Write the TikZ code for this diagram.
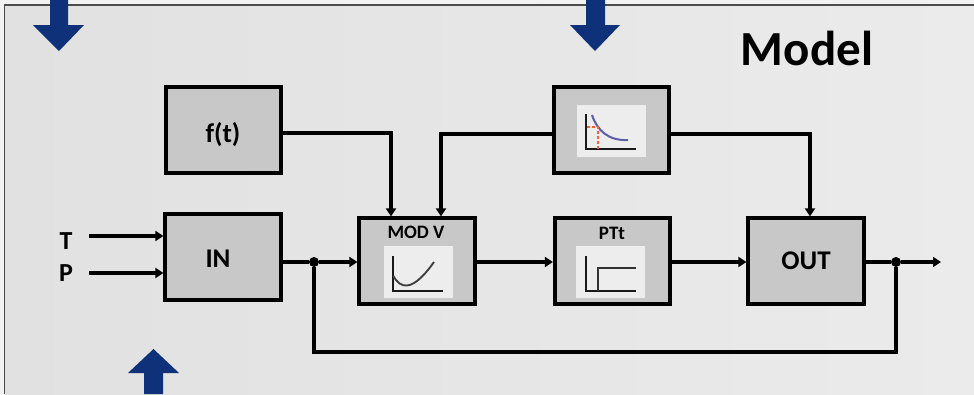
\documentclass[tikz,border=0pt]{standalone}
\usepackage{fontspec}
\setmainfont{Carlito}
\usetikzlibrary{arrows.meta,calc}
\definecolor{panel}{HTML}{E1E1E1}
\definecolor{panelb}{HTML}{EBEBEB}
\definecolor{boxfill}{HTML}{C8C8C8}
\definecolor{thumb}{HTML}{EDEDED}
\definecolor{navy}{HTML}{0F3179}
\definecolor{curve}{HTML}{5A5FA8}
\tikzset{
  blockbox/.style={draw=black,line width=3.8pt,fill=boxfill,minimum width=115.5pt,minimum height=85.5pt,inner sep=0pt,font=\bfseries\fontsize{27}{27}\selectfont},
  thumbbox/.style={fill=thumb,draw=none,minimum width=69pt,minimum height=52pt,inner sep=0pt},
  wire/.style={line width=3.3pt,draw=black},
  flow/.style={wire,-{Triangle[length=8pt,width=10pt]}},
  dotj/.style={circle,fill=black,minimum size=10pt,inner sep=0pt},
  plotline/.style={line width=2.2pt,draw=black!90},
  bigarrow/.style={fill=navy,draw=none},
  lab/.style={font=\bfseries\fontsize{26}{26}\selectfont,inner sep=0pt},
  sublab/.style={font=\bfseries\fontsize{19}{19}\selectfont,inner sep=0pt}
}
\begin{document}
\begin{tikzpicture}[x=1pt,y=-1pt]
\useasboundingbox (0,0) rectangle (974,394);
\fill[white!95!black] (0,0) rectangle (974,394);
\shade[left color=panel,right color=panelb] (5,5) rectangle (974,394);
\draw[line width=1.8pt,draw=black!70] (4.5,394) -- (4.5,5) -- (974,5);
% blue arrows
\path[bigarrow] (50,0) -- (68,0) -- (68,25) -- (84,25) -- (59,51) -- (33,25) -- (50,25) -- cycle;
\path[bigarrow] (586,0) -- (605,0) -- (605,25) -- (620,25) -- (595,51) -- (570,25) -- (586,25) -- cycle;
\path[bigarrow] (144,394) -- (163,394) -- (163,373) -- (179,373) -- (153.5,349) -- (128,373) -- (144,373) -- cycle;
\node[font=\bfseries\fontsize{49}{49}\selectfont,inner sep=0pt] (title) at (807,48) {Model};
% blocks
\node[blockbox] (ft) at (223.5,130) {};
\node[font=\bfseries\fontsize{27}{27}\selectfont,inner sep=0pt] (ftl) at (223,135) {f(t)};
\node[blockbox] (in) at (223,257) {};
\node[font=\bfseries\fontsize{27}{27}\selectfont,inner sep=0pt] (inl) at (218,259) {IN};
\node[blockbox] (mod) at (417,261) {};
\node[blockbox] (ptt) at (612.5,261) {};
\node[blockbox] (sat) at (611.5,130) {};
\node[blockbox] (out) at (806,261) {OUT};
\node[sublab] (modl) at (416,232) {MOD V};
\node[sublab] (pttl) at (612,233) {PTt};
% thumbnails
\node[thumbbox] (th1) at (418,272) {};
\node[thumbbox] (th2) at (610,272) {};
\node[thumbbox] (th3) at (611,131) {};
% thumbnail plots
\draw[plotline] (393,256) -- (393,291) -- (443,291);
\draw[line width=1.9pt,draw=black!75] (393.5,276) .. controls (397,283) and (402,286) .. (407,285.5) .. controls (416,285) and (427,272) .. (434,262);
\draw[plotline] (586,256) -- (586,291) -- (636,291);
\draw[line width=1.5pt,draw=black!80] (598,291) -- (598,268) -- (636,268);
\draw[plotline] (586,114) -- (586,149) -- (636,149);
\draw[line width=2pt,draw=curve] (592,115) .. controls (597,130) and (608,141) .. (628,140);
\draw[line width=1.1pt,draw=red!60!orange!80,dash pattern=on 2.5pt off 2.5pt] (587,127) -- (598,127) -- (598,149);
% inputs
\node[lab] (t) at (66,241) {T};
\node[lab] (p) at (66,273) {P};
\coordinate (ts) at (89,236);
\coordinate (ps) at (89,273);
\draw[flow] (ts) -- (ts -| in.west);
\draw[flow] (ps) -- (ps -| in.west);
% main connectors
\node[dotj] (j1) at (314,262) {};
\node[dotj] (j2) at (896,262) {};
\coordinate (end) at (941,262);
\draw[wire] (in.east |- j1) -- (j1);
\draw[flow] (j1) -- (mod.west |- j1);
\draw[flow] (mod.east |- j1) -- (ptt.west |- j1);
\draw[flow] (ptt.east |- j1) -- (out.west |- j1);
\draw[wire] (out.east |- j1) -- (j2);
\draw[flow] (j2) -- (end);
\draw[wire,line join=miter] (j2) -- (896,352) -- (314,352) -- (j1);
\draw[flow] (ft.east |- 0,133) -- (391,133) -- (391,0 |- mod.north);
\draw[flow] (sat.west |- 0,134) -- (441,134) -- (441,0 |- mod.north);
\draw[flow] (sat.east |- 0,134) -- (810,134) -- (810,0 |- out.north);
\end{tikzpicture}
\end{document}
